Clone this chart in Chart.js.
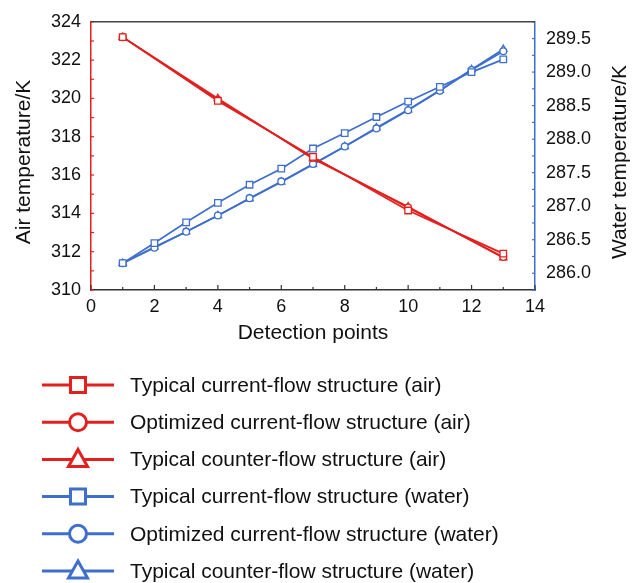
<!DOCTYPE html>
<html>
<head>
<meta charset="utf-8">
<script src="https://cdn.jsdelivr.net/npm/chart.js"></script>
<style>
  html, body { margin: 0; padding: 0; background: #fff; }
  #wrap { width: 636px; height: 583px; }
</style>
</head>
<body>
<div id="wrap"><canvas id="chart" width="636" height="583"></canvas></div>
<script>
// Detection points
const airPoints = [1, 4, 7, 10, 13]
const waterPoints = [1, 2, 3, 4, 5, 6, 7, 8, 9, 10, 11, 12, 13]

// Air temperature (K)
const airTypicalCurrent = [323.2, 319.87, 316.95, 314.15, 311.9]
const airOptimizedCurrent = [323.2, 319.93, 316.9, 314.3, 311.72]
const airTypicalCounter = [323.2, 320.0, 316.85, 314.35, 311.68]

// Water temperature (K)
const waterTypicalCurrent = [286.15, 286.45, 286.76, 287.05, 287.32, 287.56, 287.86, 288.09, 288.33, 288.56, 288.78, 289.0, 289.19]
const waterOptimizedCurrent = [286.15, 286.38, 286.62, 286.86, 287.12, 287.37, 287.63, 287.89, 288.16, 288.43, 288.72, 289.03, 289.31]
const waterTypicalCounter = [286.15, 286.39, 286.62, 286.86, 287.11, 287.36, 287.62, 287.89, 288.17, 288.44, 288.73, 289.04, 289.34]

const RED = "#e3201e"
const BLUE = "#3e6fcd"
const FONT = "'Liberation Sans', Arial, Helvetica, sans-serif"

const toXY = (xs, ys) => xs.map((x, i) => ({ x: x, y: ys[i] }))

function series(label, xs, ys, color, style, radius, axis) {
  return {
    label: label,
    data: toXY(xs, ys),
    yAxisID: axis,
    borderColor: color,
    backgroundColor: "#fff",
    borderWidth: 1.7,
    pointStyle: style,
    pointRadius: radius,
    pointBorderWidth: 1.3,
    pointBackgroundColor: "#fff",
    pointBorderColor: color,
    tension: 0,
    fill: false
  }
}

// inward tick marks, top frame line, y titles and the legend below the plot
const decorations = {
  id: "decorations",
  beforeDatasetsDraw(chart) {
    const { ctx, chartArea: a, scales } = chart
    ctx.save()
    ctx.lineWidth = 1.2

    ctx.strokeStyle = "#333"
    scales.x.ticks.forEach(t => {
      const px = scales.x.getPixelForValue(t.value)
      const len = t.value % 2 === 0 ? 5 : 3
      ctx.beginPath()
      ctx.moveTo(px, a.bottom)
      ctx.lineTo(px, a.bottom - len)
      ctx.stroke()
    })

    ctx.strokeStyle = RED
    scales.y.ticks.forEach(t => {
      const py = scales.y.getPixelForValue(t.value)
      ctx.beginPath()
      ctx.moveTo(a.left, py)
      ctx.lineTo(a.left + 3, py)
      ctx.stroke()
    })

    ctx.strokeStyle = BLUE
    scales.y2.ticks.forEach(t => {
      const py = scales.y2.getPixelForValue(t.value)
      ctx.beginPath()
      ctx.moveTo(a.right, py)
      ctx.lineTo(a.right - 3, py)
      ctx.stroke()
    })

    // top frame line
    ctx.strokeStyle = "#444"
    ctx.lineWidth = 1.5
    ctx.beginPath()
    ctx.moveTo(a.left, a.top)
    ctx.lineTo(a.right, a.top)
    ctx.stroke()
    ctx.restore()
  },
  afterDraw(chart) {
    const { ctx } = chart
    ctx.save()

    // y axis titles, both read bottom to top
    ctx.fillStyle = "#111"
    ctx.font = "21px " + FONT
    ctx.textAlign = "center"
    ctx.textBaseline = "middle"
    ;[[24, "Air temperature/K"], [620, "Water temperature/K"]].forEach(([x, text]) => {
      ctx.save()
      ctx.translate(x, 162)
      ctx.rotate(-Math.PI / 2)
      ctx.fillText(text, 0, 0)
      ctx.restore()
    })

    // legend
    const top = 385
    const step = 37.2
    chart.data.datasets.forEach((ds, i) => {
      const y = top + i * step
      const c = ds.borderColor
      ctx.strokeStyle = c
      ctx.lineWidth = 3
      ctx.beginPath()
      ctx.moveTo(42, y)
      ctx.lineTo(114, y)
      ctx.stroke()

      const cx = 78
      ctx.fillStyle = "#fff"
      ctx.beginPath()
      if (ds.pointStyle === "rect") {
        ctx.rect(cx - 7.5, y - 7.5, 15, 15)
      } else if (ds.pointStyle === "circle") {
        ctx.arc(cx, y, 8.5, 0, Math.PI * 2)
      } else {
        ctx.moveTo(cx, y - 10)
        ctx.lineTo(cx + 9.5, y + 7)
        ctx.lineTo(cx - 9.5, y + 7)
        ctx.closePath()
      }
      ctx.fill()
      ctx.stroke()

      ctx.fillStyle = "#111"
      ctx.font = "21px " + FONT
      ctx.textAlign = "left"
      ctx.textBaseline = "middle"
      ctx.fillText(ds.label, 130, y + 1)
    })
    ctx.restore()
  }
}

const ctx = document.getElementById("chart").getContext("2d")

new Chart(ctx, {
  type: "line",
  data: {
    datasets: [
      series("Typical current-flow structure (air)", airPoints, airTypicalCurrent, RED, "rect", 4.6, "y"),
      series("Optimized current-flow structure (air)", airPoints, airOptimizedCurrent, RED, "circle", 3.4, "y"),
      series("Typical counter-flow structure (air)", airPoints, airTypicalCounter, RED, "triangle", 4.2, "y"),
      series("Typical current-flow structure (water)", waterPoints, waterTypicalCurrent, BLUE, "rect", 4.6, "y2"),
      series("Optimized current-flow structure (water)", waterPoints, waterOptimizedCurrent, BLUE, "circle", 3.4, "y2"),
      series("Typical counter-flow structure (water)", waterPoints, waterTypicalCounter, BLUE, "triangle", 4.2, "y2")
    ]
  },
  options: {
    responsive: false,
    animation: false,
    devicePixelRatio: 1,
    layout: {
      padding: { top: 20, bottom: 237, left: 0, right: 0 }
    },
    plugins: {
      legend: { display: false },
      tooltip: { enabled: false }
    },
    scales: {
      x: {
        type: "linear",
        min: 0,
        max: 14,
        grid: { display: false, drawTicks: false },
        border: { color: "#333", width: 1.5 },
        ticks: {
          stepSize: 1,
          autoSkip: false,
          maxRotation: 0,
          padding: 6,
          color: "#111",
          font: { family: FONT, size: 18 },
          callback: v => (v % 2 === 0 ? v : "")
        },
        title: {
          display: true,
          text: "Detection points",
          color: "#111",
          font: { family: FONT, size: 21 },
          padding: { top: 0, bottom: 0 }
        },
        afterFit: scale => { scale.height = 56 }
      },
      y: {
        position: "left",
        min: 310,
        max: 324,
        grid: { display: false, drawTicks: false },
        border: { color: RED, width: 1.5 },
        ticks: {
          stepSize: 1,
          autoSkip: false,
          padding: 10,
          color: "#111",
          font: { family: FONT, size: 18 },
          callback: v => (v % 2 === 0 ? v : "")
        },
        afterFit: scale => { scale.width = 91 }
      },
      y2: {
        position: "right",
        min: 285.75,
        max: 289.75,
        grid: { display: false, drawTicks: false },
        border: { color: BLUE, width: 1.5 },
        ticks: {
          stepSize: 0.25,
          autoSkip: false,
          padding: 11,
          color: "#111",
          font: { family: FONT, size: 18 },
          callback: v => (Math.abs(v * 2 - Math.round(v * 2)) < 1e-6 ? Number(v).toFixed(1) : "")
        },
        afterFit: scale => { scale.width = 101 }
      }
    }
  },
  plugins: [decorations]
})
</script>
</body>
</html>
